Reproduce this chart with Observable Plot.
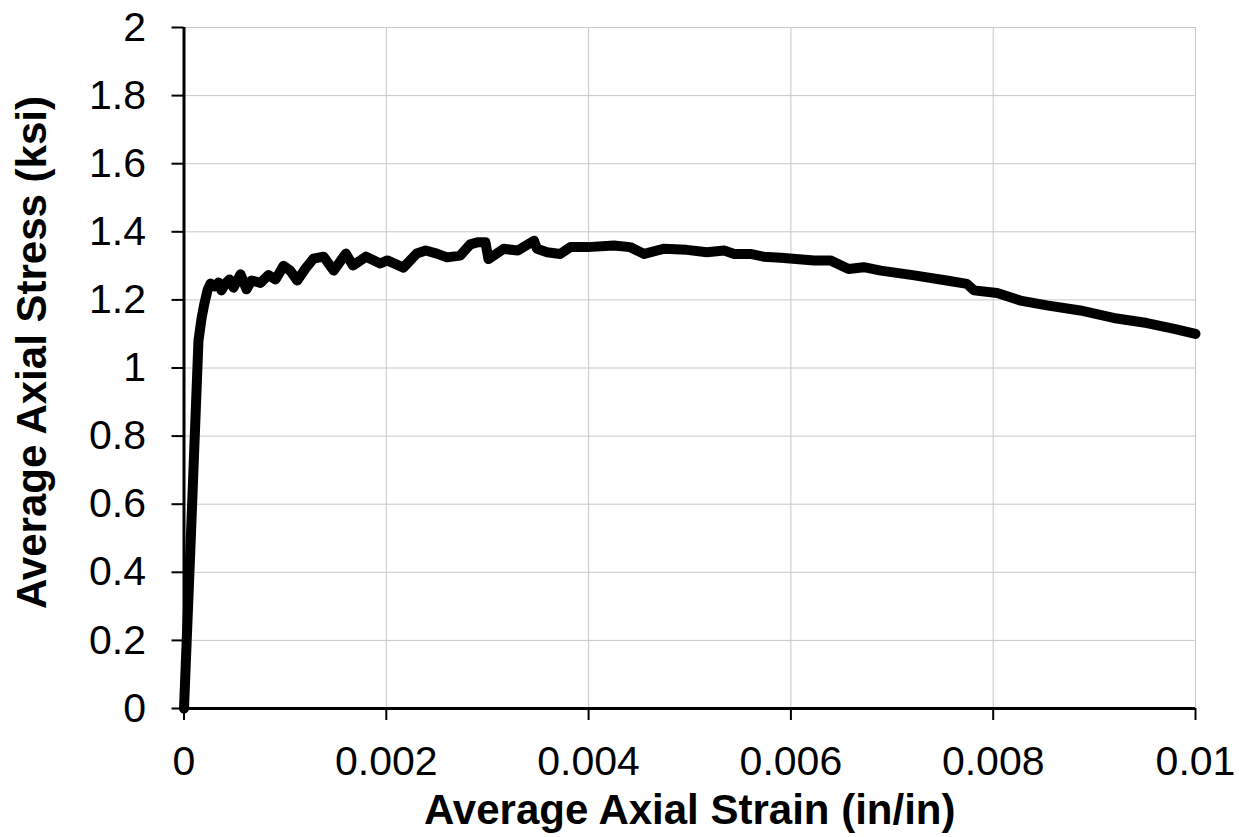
<!DOCTYPE html>
<html>
<head>
<meta charset="utf-8">
<script src="https://cdn.jsdelivr.net/npm/d3@7"></script>
<script src="https://cdn.jsdelivr.net/npm/@observablehq/plot@0.6"></script>
<style>
  html, body { margin: 0; padding: 0; background: #ffffff; }
  #chart { width: 1239px; height: 837px; }
</style>
</head>
<body>
<div id="chart"></div>
<script>
// Average axial strain (in/in)
const strain = [
  0, 0.000069, 0.000143, 0.000173, 0.000198, 0.000232, 0.000262, 0.000302, 0.000341, 0.000371,
  0.000410, 0.00045, 0.000489, 0.000559, 0.000618, 0.000667, 0.000756, 0.000835, 0.000905, 0.000984,
  0.00105, 0.00112, 0.0012, 0.00128, 0.00138, 0.00148, 0.0016, 0.00167, 0.0018, 0.00194,
  0.00201, 0.00217, 0.0023, 0.00239, 0.0025, 0.0026, 0.00273, 0.00283, 0.0029, 0.00298,
  0.00301, 0.00316, 0.0033, 0.00346, 0.00349, 0.00359, 0.00372, 0.00382, 0.00399, 0.00425,
  0.00441, 0.00455, 0.00474, 0.00497, 0.00517, 0.00534, 0.00544, 0.0056, 0.00573, 0.0059,
  0.00623, 0.00639, 0.00657, 0.00672, 0.00689, 0.00722, 0.00754, 0.00774, 0.00781, 0.00804,
  0.00827, 0.00853, 0.00886, 0.00919, 0.00952, 0.00979, 0.01
];
// Average axial stress (ksi)
const stress = [
  0, 0.514, 1.08, 1.145, 1.184, 1.228, 1.248, 1.24, 1.251, 1.228,
  1.248, 1.26, 1.236, 1.275, 1.231, 1.257, 1.25, 1.273, 1.26, 1.30,
  1.286, 1.257, 1.292, 1.321, 1.327, 1.286, 1.336, 1.301, 1.327, 1.307,
  1.316, 1.295, 1.336, 1.345, 1.336, 1.325, 1.33, 1.363, 1.369, 1.369,
  1.32, 1.35, 1.345, 1.374, 1.35, 1.34, 1.335, 1.355, 1.355, 1.36,
  1.355, 1.335, 1.35, 1.347, 1.34, 1.345, 1.335, 1.335, 1.327, 1.324,
  1.316, 1.316, 1.291, 1.296, 1.286, 1.272, 1.257, 1.247, 1.228, 1.22,
  1.198, 1.184, 1.169, 1.147, 1.132, 1.115, 1.10
];
const xTicks = [0, 0.002, 0.004, 0.006, 0.008, 0.01];
const xTickLabels = ["0", "0.002", "0.004", "0.006", "0.008", "0.01"];
const yTicks = [0, 0.2, 0.4, 0.6, 0.8, 1, 1.2, 1.4, 1.6, 1.8, 2];
const yTickLabels = ["0", "0.2", "0.4", "0.6", "0.8", "1", "1.2", "1.4", "1.6", "1.8", "2"];
const xTitle = "Average Axial Strain (in/in)";
const yTitle = "Average Axial Stress (ksi)";

const data = strain.map((s, i) => ({strain: s, stress: stress[i]}));

const chart = Plot.plot({
  width: 1239,
  height: 837,
  marginLeft: 183.5,
  marginRight: 44,
  marginTop: 27,
  marginBottom: 129,
  style: {fontFamily: "'Liberation Sans', Arial, sans-serif", background: "#ffffff", color: "#000000"},
  x: {domain: [0, 0.01]},
  y: {domain: [0, 2]},
  marks: [
    Plot.gridX(xTicks, {stroke: "#c8c8c8", strokeOpacity: 1, strokeWidth: 1}),
    Plot.gridY(yTicks, {stroke: "#c8c8c8", strokeOpacity: 1, strokeWidth: 1}),
    Plot.axisX(xTicks, {
      tickSize: 12, tickPadding: 25, fontSize: 41, label: null,
      stroke: "#000", strokeWidth: 2, fill: "#000",
      tickFormat: (d) => xTickLabels[xTicks.indexOf(d)]
    }),
    Plot.axisY(yTicks, {
      tickSize: 12, tickPadding: 26, fontSize: 41, label: null,
      stroke: "#000", strokeWidth: 2, fill: "#000",
      tickFormat: (d) => yTickLabels[yTicks.indexOf(d)]
    }),
    Plot.line(data, {x: "strain", y: "stress", stroke: "#000", strokeWidth: 10, strokeLinejoin: "round", strokeLinecap: "round"}),
    Plot.ruleY([0], {stroke: "#000", strokeWidth: 3}),
    Plot.ruleX([0], {stroke: "#000", strokeWidth: 3}),
    Plot.text([xTitle], {frameAnchor: "bottom", dy: 102, fontSize: 42, fontWeight: "bold", fill: "#000", lineAnchor: "middle"}),
    Plot.text([yTitle], {frameAnchor: "left", dx: -151.5, dy: -15.5, rotate: -90, fontSize: 42, fontWeight: "bold", fill: "#000", lineAnchor: "middle", textAnchor: "middle"})
  ]
});
document.getElementById("chart").appendChild(chart);
</script>
</body>
</html>
